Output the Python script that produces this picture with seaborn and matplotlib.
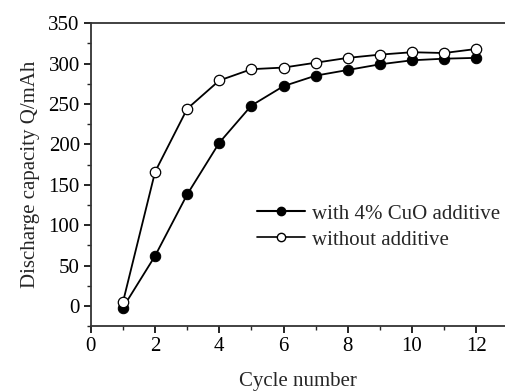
import matplotlib
matplotlib.use("Agg")
import matplotlib.pyplot as plt
import seaborn as sns
import pandas as pd
from matplotlib.ticker import MultipleLocator
from matplotlib.lines import Line2D

cycles = [1, 2, 3, 4, 5, 6, 7, 8, 9, 10, 11, 12]
with_cuo = [-2, 62, 138, 202, 248, 272, 285, 292, 299, 304, 306, 307]
without = [5, 166, 244, 279, 293, 295, 301, 307, 311, 314, 313, 318]
labels = ["with 4% CuO additive", "without additive"]

df = pd.DataFrame({"cycle": cycles * 2,
                   "cap": with_cuo + without,
                   "series": [labels[0]] * len(cycles) + [labels[1]] * len(cycles)})

sns.set_style("ticks")
plt.rcParams['font.family'] = ['Liberation Serif', 'DejaVu Serif']

fig = plt.figure(figsize=(5.05, 3.92), dpi=100)
ax = fig.add_axes([0.18, 0.168, 0.82, 0.773])

sns.lineplot(data=df, x="cycle", y="cap", hue="series", style="series",
             palette=["black", "black"], markers=["o", "o"], dashes=False,
             ax=ax, linewidth=1.3, markersize=7.5, legend=False)
lines = ax.get_lines()
lines[0].set_markerfacecolor("black")
lines[0].set_markeredgecolor("black")
lines[1].set_markerfacecolor("white")
lines[1].set_markeredgecolor("black")
lines[1].set_markeredgewidth(0.9)
lines[1].set_zorder(3)

ax.set_xlim(0, 12.9)
ax.set_ylim(-25, 350)
ax.xaxis.set_major_locator(MultipleLocator(2))
ax.xaxis.set_minor_locator(MultipleLocator(1))
ax.yaxis.set_major_locator(MultipleLocator(50))
ax.yaxis.set_minor_locator(MultipleLocator(25))
ax.tick_params(which="major", direction="out", length=5, width=1.2, labelsize=15, colors="black", pad=3)
ax.tick_params(which="minor", direction="out", length=3, width=1.0)
for s in ["left", "bottom", "top"]:
    ax.spines[s].set_linewidth(1.3)
    ax.spines[s].set_color("#333333")
ax.spines["right"].set_visible(False)

ax.set_xlabel("Cycle number", fontsize=15, labelpad=11)
ax.set_ylabel("Discharge capacity Q/mAh", fontsize=15, labelpad=6)

h1 = Line2D([], [], color="black", marker="o", markersize=6, markerfacecolor="black", linewidth=1.5)
h2 = Line2D([], [], color="black", marker="o", markersize=6, markerfacecolor="white", linewidth=1.2)
ax.legend([h1, h2], labels, loc="upper left", bbox_to_anchor=(0.38, 0.43), frameon=False,
          fontsize=15, handlelength=2.3, handletextpad=0.35, labelspacing=0.3, borderaxespad=0)

fig.savefig("out.png", dpi=100)
